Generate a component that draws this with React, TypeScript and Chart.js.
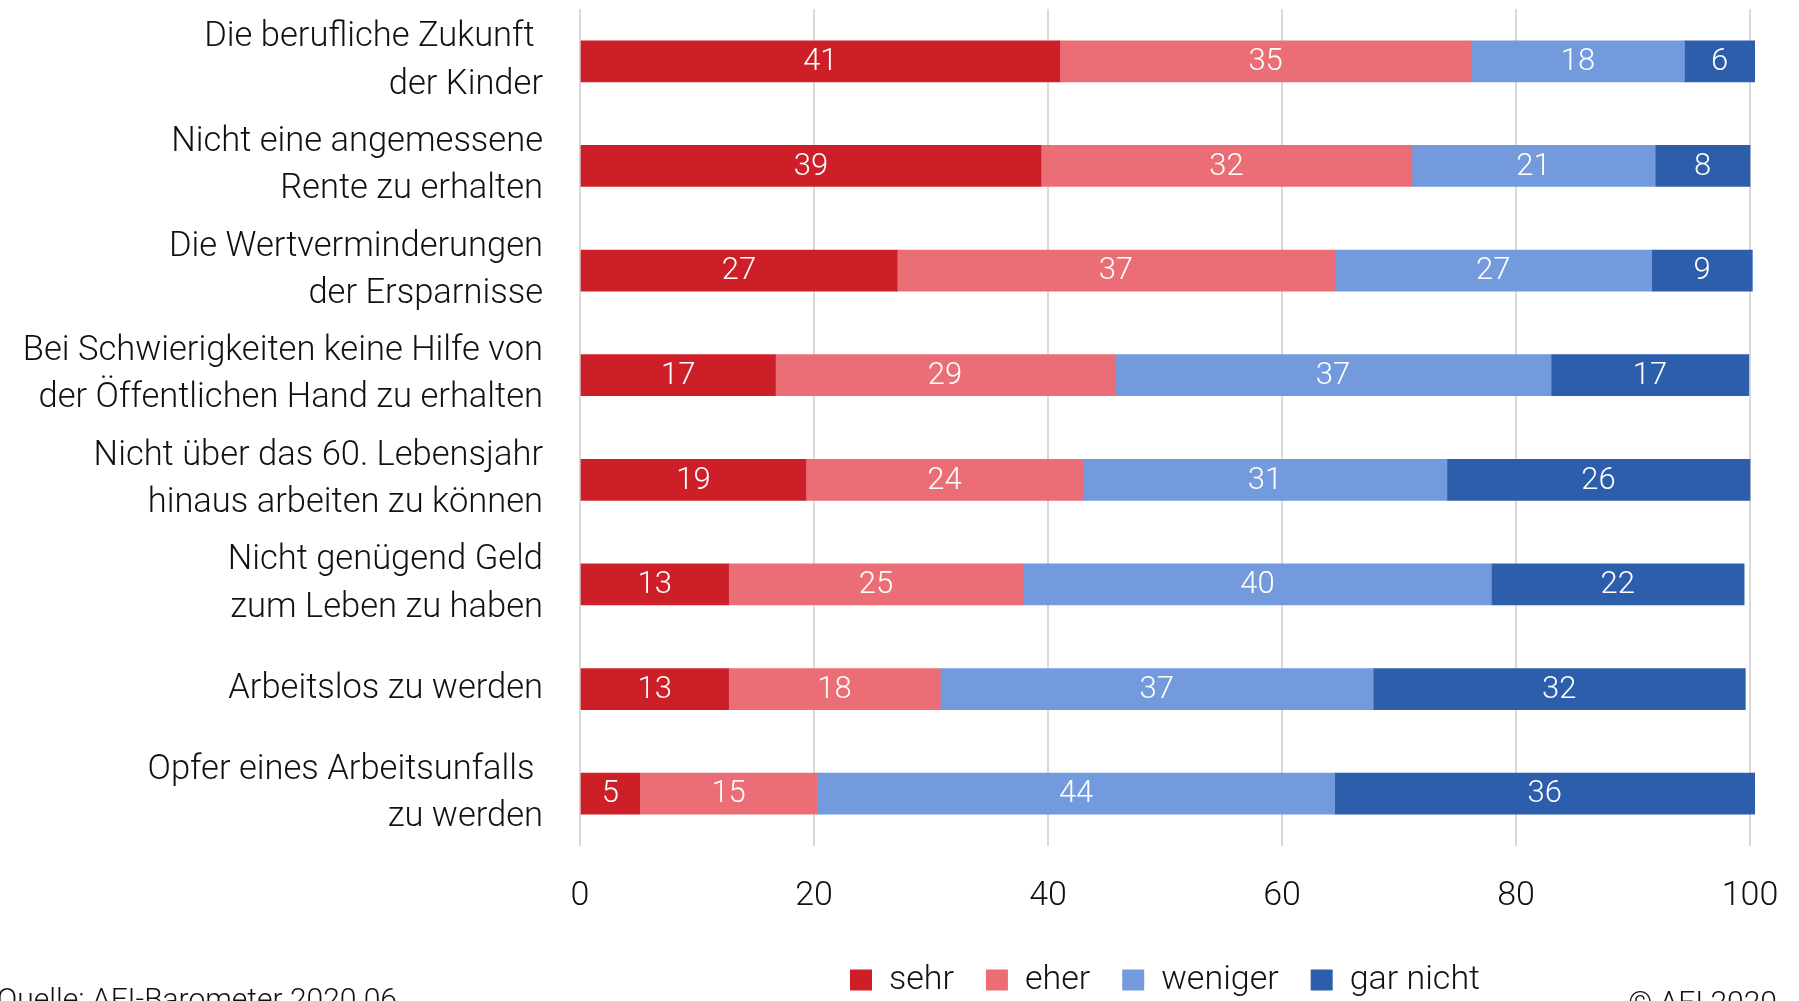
import React, { useEffect, useRef } from "react";
import { Chart, registerables } from "chart.js";

Chart.register(...registerables);

const categories: (string | string[])[] = [
  ["Die berufliche Zukunft ", "der Kinder"],
  ["Nicht eine angemessene", "Rente zu erhalten"],
  ["Die Wertverminderungen", "der Ersparnisse"],
  ["Bei Schwierigkeiten keine Hilfe von", "der Öffentlichen Hand zu erhalten"],
  ["Nicht über das 60. Lebensjahr", "hinaus arbeiten zu können"],
  ["Nicht genügend Geld", "zum Leben zu haben"],
  "Arbeitslos zu werden",
  ["Opfer eines Arbeitsunfalls ", "zu werden"],
];

const seriesNames = ["sehr", "eher", "weniger", "gar nicht"];
const seriesColors = ["#CD1F28", "#EB6E76", "#729ADD", "#2C5EAB"];

// bar lengths
const sehrValues = [41.0, 39.4, 27.1, 16.7, 19.3, 12.7, 12.7, 5.1];
const eherValues = [35.2, 31.7, 37.4, 29.0, 23.7, 25.2, 18.1, 15.2];
const wenigerValues = [18.2, 20.8, 27.1, 37.3, 31.1, 40.0, 37.0, 44.2];
const garNichtValues = [6.0, 8.1, 8.6, 16.9, 25.9, 21.6, 31.8, 35.9];

// printed labels
const sehrLabels = [41, 39, 27, 17, 19, 13, 13, 5];
const eherLabels = [35, 32, 37, 29, 24, 25, 18, 15];
const wenigerLabels = [18, 21, 27, 37, 31, 40, 37, 44];
const garNichtLabels = [6, 8, 9, 17, 26, 22, 32, 36];

const xMin = 0;
const xMax = 100;
const xStep = 20;

const sourceText = "Quelle: AFI-Barometer 2020.06";
const copyrightText = "© AFI 2020";

const FONT = "Roboto";
const TEXT_COLOR = "#111111";

const valueSets = [sehrValues, eherValues, wenigerValues, garNichtValues];
const labelSets = [sehrLabels, eherLabels, wenigerLabels, garNichtLabels];

const valueLabelPlugin = {
  id: "valueLabels",
  afterDatasetsDraw(chart: any) {
    const ctx = chart.ctx;
    ctx.save();
    ctx.font = `300 31px ${FONT}`;
    ctx.fillStyle = "#ffffff";
    ctx.textAlign = "center";
    ctx.textBaseline = "middle";
    chart.data.datasets.forEach((_ds: any, di: number) => {
      const meta = chart.getDatasetMeta(di);
      meta.data.forEach((bar: any, i: number) => {
        const p = bar.getProps(["x", "base", "y"], true);
        ctx.fillText(String(labelSets[di][i]), (p.x + p.base) / 2, p.y + 1);
      });
    });
    ctx.restore();
  },
};

const footerPlugin = {
  id: "footerTexts",
  afterDraw(chart: any) {
    const ctx = chart.ctx;
    ctx.save();
    ctx.font = `300 30px ${FONT}`;
    ctx.fillStyle = TEXT_COLOR;
    ctx.textBaseline = "alphabetic";
    ctx.textAlign = "left";
    ctx.fillText(sourceText, -3, 1009);
    ctx.textAlign = "right";
    ctx.fillText(copyrightText, 1777, 1012);
    ctx.restore();
  },
};

export default function App() {
  const canvasRef = useRef<HTMLCanvasElement | null>(null);

  useEffect(() => {
    const canvas = canvasRef.current;
    if (!canvas) return;
    const chart = new Chart(canvas, {
      type: "bar",
      data: {
        labels: categories,
        datasets: seriesNames.map((name, i) => ({
          label: name,
          data: valueSets[i],
          backgroundColor: seriesColors[i],
          borderWidth: 0,
          barThickness: 41,
          clip: false as any,
        })),
      },
      options: {
        indexAxis: "y",
        animation: false,
        responsive: false,
        devicePixelRatio: 1,
        layout: { padding: { top: 9, right: 49, bottom: -6, left: 0 } },
        plugins: {
          tooltip: { enabled: false },
          title: { display: false },
          legend: {
            display: true,
            position: "bottom",
            fullSize: false,
            align: "center",
            labels: {
              boxWidth: 22,
              boxHeight: 21,
              padding: 32,
              color: TEXT_COLOR,
              font: { family: FONT, size: 34, weight: "300" as any },
            },
          },
        },
        scales: {
          x: {
            stacked: true,
            min: xMin,
            max: xMax,
            ticks: {
              stepSize: xStep,
              padding: 30,
              color: TEXT_COLOR,
              font: { family: FONT, size: 34, weight: "300" as any },
            },
            grid: { color: "#D9D9D9", lineWidth: 2, drawTicks: false },
            border: { display: false },
            afterFit: (scale: any) => {
              scale.height = 85;
              scale.paddingLeft = 0;
              scale.paddingRight = 0;
            },
          },
          y: {
            stacked: true,
            ticks: {
              padding: 37,
              autoSkip: false,
              color: TEXT_COLOR,
              font: { family: FONT, size: 34.5, weight: "300" as any, lineHeight: 1.37 },
            },
            grid: { display: false, drawTicks: false },
            border: { display: false },
            afterFit: (scale: any) => {
              scale.width = 580;
              scale.paddingTop = 0;
              scale.paddingBottom = 0;
            },
          },
        },
      },
      plugins: [valueLabelPlugin, footerPlugin],
    });
    return () => chart.destroy();
  }, []);

  return (
    <div
      style={{
        position: "fixed",
        left: 0,
        top: 0,
        width: 1799,
        height: 1001,
        background: "#ffffff",
        overflow: "hidden",
      }}
    >
      <canvas ref={canvasRef} width={1799} height={1001} style={{ display: "block" }} />
    </div>
  );
}
